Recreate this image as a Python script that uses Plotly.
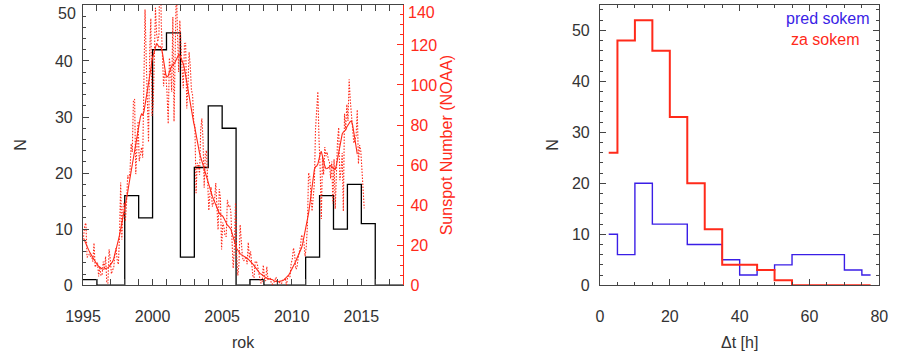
import plotly.graph_objects as go

# ---------------- data: left panel ----------------
hist_years = list(range(1995, 2019))          # bin edges (year starts) + final edge
hist_counts = [1, 0, 0, 16, 12, 42, 45, 5, 21, 32, 28, 0, 1, 0, 0, 0,
               5, 16, 10, 18, 11, 0, 0]

# monthly sunspot number, Jan 1995 .. Mar 2015
ssn_monthly = [
    24.2, 29.9, 31.1, 14.0, 14.5, 15.6, 14.5, 14.3, 11.8, 21.1, 9.0, 10.0,      # 1995
    11.5, 4.4, 9.2, 4.8, 5.5, 11.8, 8.2, 14.4, 1.6, 0.9, 17.9, 13.3,           # 1996
    5.7, 7.6, 8.7, 15.5, 18.5, 12.7, 10.4, 24.4, 51.3, 22.8, 39.0, 41.2,       # 1997
    31.9, 40.3, 54.8, 53.4, 56.3, 70.7, 66.6, 92.2, 92.9, 55.5, 74.0, 81.9,    # 1998
    62.0, 66.3, 68.8, 63.7, 106.4, 137.7, 113.5, 93.7, 71.5, 116.7, 133.2, 84.6,  # 1999
    90.1, 112.9, 138.5, 125.5, 121.6, 124.9, 170.1, 130.5, 109.7, 99.4, 106.8, 104.4,  # 2000
    95.6, 80.6, 113.5, 107.7, 96.6, 134.0, 81.8, 106.4, 150.7, 125.5, 106.5, 132.2,  # 2001
    114.1, 107.4, 98.4, 120.7, 120.8, 88.3, 99.6, 116.4, 109.6, 97.5, 95.0, 81.6,    # 2002
    79.7, 46.0, 61.1, 60.0, 55.2, 77.4, 83.3, 72.7, 48.7, 65.5, 67.3, 46.5,    # 2003
    37.3, 45.8, 49.1, 39.3, 41.5, 43.2, 51.0, 40.9, 27.7, 48.0, 43.5, 17.9,    # 2004
    31.3, 29.2, 24.5, 24.4, 42.6, 39.6, 39.9, 36.4, 22.1, 8.5, 18.0, 41.2,     # 2005
    15.3, 4.9, 10.6, 30.2, 22.3, 13.9, 12.2, 12.9, 14.4, 10.5, 21.4, 13.6,     # 2006
    16.9, 10.6, 4.8, 3.7, 11.7, 12.0, 10.0, 6.2, 2.4, 0.9, 1.7, 10.1,          # 2007
    3.4, 2.1, 9.3, 2.9, 3.2, 3.4, 0.8, 0.5, 1.1, 2.9, 4.1, 0.8,                # 2008
    1.5, 1.4, 0.7, 1.2, 2.9, 2.6, 3.5, 0.0, 4.3, 4.8, 4.1, 10.8,               # 2009
    13.1, 18.6, 15.4, 8.0, 8.7, 13.6, 16.1, 19.6, 25.2, 23.5, 21.6, 14.5,      # 2010
    19.0, 29.4, 56.2, 54.4, 41.6, 37.0, 43.8, 50.6, 78.0, 88.0, 96.7, 73.0,    # 2011
    58.3, 33.1, 64.2, 55.2, 69.0, 64.5, 66.5, 63.0, 61.4, 53.3, 61.8, 40.8,    # 2012
    62.9, 38.1, 57.9, 72.4, 78.7, 52.5, 57.0, 66.0, 37.0, 85.6, 77.6, 90.3,    # 2013
    82.0, 102.8, 92.2, 84.9, 75.2, 71.0, 72.4, 74.6, 87.6, 60.6, 70.0, 67.3,   # 2014
    58.0, 44.7, 38.4,                                                          # 2015
]

# smoothed sunspot number, Jan 1995 .. Sep 2014
ssn_smoothed = [
    23.5, 22.0, 20.5, 19.0, 17.8, 16.8, 15.8, 14.8, 13.6, 12.4, 11.3, 10.5,
    10.0, 9.5, 9.0, 8.5, 8.1, 8.0, 8.2, 8.4, 8.5, 8.7, 9.3, 10.0,
    10.8, 11.8, 13.3, 15.3, 17.6, 20.0, 22.5, 25.0, 27.8, 30.8, 33.6, 36.2,
    39.0, 42.5, 46.3, 50.0, 53.5, 57.0, 60.3, 63.5, 66.8, 70.0, 73.6, 77.6,
    81.5, 84.0, 85.5, 85.0, 86.5, 89.8, 93.5, 97.0, 99.5, 102.8, 108.0, 112.5,
    114.5, 117.5, 119.8, 120.8, 120.0, 119.0, 119.3, 118.5, 116.0, 112.0, 108.0, 105.0,
    104.0, 104.5, 106.5, 108.3, 109.5, 110.0, 110.5, 111.5, 112.5, 113.8, 115.2, 114.8,
    113.5, 112.0, 110.5, 108.0, 104.5, 100.5, 96.5, 93.0, 89.5, 86.5, 83.5, 81.0,
    78.5, 75.0, 71.5, 68.5, 66.0, 64.0, 62.0, 60.0, 58.0, 56.0, 54.0, 51.5,
    49.5, 47.5, 46.0, 44.5, 43.0, 41.5, 40.0, 38.5, 37.0, 36.0, 35.3, 35.0,
    34.5, 33.5, 32.3, 31.0, 30.0, 29.5, 29.0, 28.0, 26.0, 24.0, 21.8, 19.5,
    18.3, 17.5, 16.5, 15.8, 15.3, 15.0, 14.7, 14.4, 14.0, 13.5, 13.0, 12.5,
    12.0, 11.4, 10.6, 9.8, 9.0, 8.2, 7.3, 6.5, 5.9, 5.6, 5.3, 4.8,
    4.3, 3.9, 3.5, 3.3, 3.2, 3.1, 3.0, 2.8, 2.3, 2.0, 1.8, 1.7,
    1.8, 1.9, 2.0, 2.2, 2.4, 2.8, 3.3, 3.8, 4.5, 5.2, 6.2, 7.3,
    8.3, 9.3, 10.6, 12.0, 13.5, 14.8, 16.0, 17.0, 18.7, 21.0, 23.8, 26.5,
    29.5, 32.6, 35.9, 40.0, 45.0, 50.0, 55.0, 57.8, 59.2, 59.5, 60.5, 63.5,
    65.5, 66.9, 65.0, 62.0, 59.5, 58.2, 58.3, 58.5, 59.0, 59.8, 59.5, 58.5,
    58.0, 57.8, 60.0, 63.0, 66.0, 70.0, 73.5, 75.5, 76.5, 77.0, 77.5, 79.0,
    80.0, 81.0, 81.8, 82.0, 80.0, 76.5, 72.0, 68.5, 65.5,
]
start_year = 1995

# ---------------- data: right panel ----------------
dt_centers = [2.5, 7.5, 12.5, 17.5, 22.5, 27.5, 32.5, 37.5, 42.5, 47.5,
              52.5, 57.5, 62.5, 67.5, 72.5, 77.5]
n_pred = [10, 6, 20, 12, 12, 8, 8, 5, 2, 3, 4, 6, 6, 6, 3, 2]
n_za = [26, 48, 52, 46, 33, 20, 11, 4, 4, 3, 1, 0, 0, 0, 0, 0]

# ---------------- styling ----------------
W, H = 899, 354
FONT = "Liberation Sans, Arial, Helvetica, sans-serif"
FS = 16
RED = "#ff2a1a"
BLUE = "#3a1ee6"
AX = "#444444"
TXT = "#333333"


def px_x(p):
    return p / W


def px_y(p):
    return 1 - p / H


def month_time(n):
    return [start_year + (i + 0.5) / 12 for i in range(n)]


fig = go.Figure()

fig.add_trace(go.Scatter(
    x=month_time(len(ssn_monthly)), y=ssn_monthly, mode="lines",
    line=dict(color=RED, width=1.1, dash="1.5px,1.5px"), xaxis="x", yaxis="y2",
    showlegend=False))
fig.add_trace(go.Scatter(
    x=month_time(len(ssn_smoothed)), y=ssn_smoothed, mode="lines",
    line=dict(color=RED, width=1.1), xaxis="x", yaxis="y2",
    showlegend=False))
fig.add_trace(go.Scatter(
    x=hist_years, y=hist_counts + [hist_counts[-1]], mode="lines",
    line=dict(color="black", width=1.3, shape="hv"), xaxis="x", yaxis="y",
    showlegend=False))

fig.add_trace(go.Scatter(
    x=dt_centers, y=n_pred, mode="lines",
    line=dict(color=BLUE, width=1.4, shape="hvh"), xaxis="x2", yaxis="y3",
    showlegend=False))
fig.add_trace(go.Scatter(
    x=dt_centers, y=n_za, mode="lines",
    line=dict(color=RED, width=2, shape="hvh"), xaxis="x2", yaxis="y3",
    showlegend=False))

common = dict(showline=True, linecolor=AX, linewidth=1.2, ticks="inside",
              tickcolor=AX, ticklen=6, showgrid=False, zeroline=False,
              tickfont=dict(family=FONT, size=FS, color=TXT))

dom_left = [px_x(67), px_x(397)]
dom_right = [px_x(600), px_x(888)]
dom_y = [px_y(292.7), px_y(5)]
tfont = dict(family=FONT, size=FS, color=TXT)

fig.update_layout(
    width=W, height=H, margin=dict(l=0, r=0, t=0, b=0),
    paper_bgcolor="white", plot_bgcolor="white",
    font=dict(family=FONT, size=FS, color=TXT),
    xaxis=dict(domain=dom_left, range=[1995, 2018], tick0=1995, dtick=5,
               mirror="allticks", ticklabelstandoff=16,
               minor=dict(dtick=1, ticks="inside", ticklen=3, tickcolor=AX),
               title=dict(text="rok", standoff=13, font=tfont),
               anchor="y", **common),
    yaxis=dict(domain=dom_y, range=[0, 50], tickvals=[0, 10, 20, 30, 40],
               ticklabelstandoff=6,
               minor=dict(dtick=2, ticks="inside", ticklen=3, tickcolor=AX),
               title=dict(text="N", standoff=24, font=tfont),
               anchor="x", **common),
    yaxis2=dict(overlaying="y", side="right", anchor="x", range=[0, 140],
                tickvals=[0, 20, 40, 60, 80, 100, 120], ticklabelstandoff=3,
                showline=True, linecolor=RED, linewidth=1.2, ticks="inside",
                tickcolor=RED, ticklen=6, showgrid=False, zeroline=False,
                tickfont=dict(family=FONT, size=FS, color=RED),
                minor=dict(dtick=5, ticks="inside", ticklen=3, tickcolor=RED),
                title=dict(text="Sunspot Number (NOAA)", standoff=4,
                           font=dict(family=FONT, size=FS, color=RED))),
    xaxis2=dict(domain=dom_right, range=[0, 80], dtick=20,
                mirror="allticks", ticklabelstandoff=16,
                minor=dict(dtick=5, ticks="inside", ticklen=3, tickcolor=AX),
                title=dict(text="Δt [h]", standoff=13, font=tfont),
                anchor="y3", **common),
    yaxis3=dict(domain=dom_y, range=[0, 55], dtick=10, mirror="allticks",
                ticklabelstandoff=6,
                minor=dict(dtick=2, ticks="inside", ticklen=3, tickcolor=AX),
                title=dict(text="N", standoff=9, font=tfont),
                anchor="x2", **common),
)

# end-of-axis tick labels, nudged inward as in the original
fig.add_annotation(text="50", xref="x domain", yref="y", x=0, y=50,
                   xanchor="right", yanchor="middle", xshift=-5, yshift=-9,
                   showarrow=False, font=dict(family=FONT, size=FS, color=TXT))
fig.add_annotation(text="140", xref="x domain", yref="y2", x=1, y=140,
                   xanchor="left", yanchor="middle", xshift=3, yshift=-8,
                   showarrow=False, font=dict(family=FONT, size=FS, color=RED))

# legend texts
fig.add_annotation(text="pred sokem", xref="x2 domain", yref="y3 domain",
                   x=0.975, y=0.95, xanchor="right", yanchor="middle",
                   showarrow=False, font=dict(family=FONT, size=FS, color=BLUE))
fig.add_annotation(text="za sokem", xref="x2 domain", yref="y3 domain",
                   x=0.935, y=0.878, xanchor="right", yanchor="middle",
                   showarrow=False, font=dict(family=FONT, size=FS, color=RED))

fig.write_html("out.html")
